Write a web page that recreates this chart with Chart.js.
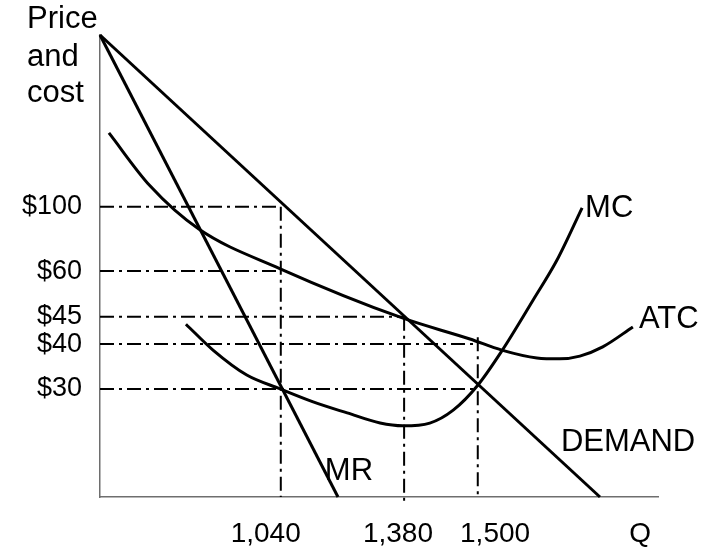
<!DOCTYPE html>
<html>
<head>
<meta charset="utf-8">
<script src="https://cdn.jsdelivr.net/npm/chart.js@4.4.1/dist/chart.umd.min.js"></script>
<style>
  html, body { margin: 0; padding: 0; background: #fff; }
  #wrap { width: 722px; height: 553px; position: relative; }
</style>
</head>
<body>
<div id="wrap"><canvas id="c"></canvas></div>
<script>
// ---- Data (schematic diagram units: Q axis 0..100, price axis 0..100) ----
const qTickLabels = ['1,040', '1,380', '1,500', 'Q'];
const qTickPos    = [29.7, 53.4, 70.8, 96.8];      // where the Q labels sit
const qLevels     = [32.4, 54.5, 67.7];            // 1,040 / 1,380 / 1,500
const priceLabels = ['$100', '$60', '$45', '$40', '$30'];
const priceLevels = [62.8, 48.9, 39.0, 33.1, 23.4];

const demandX = [0, 89.6];
const demandY = [100, 0];
const mrX = [0, 42.65];
const mrY = [100, 0];

const atcX = [1.6, 9.0, 17.7, 32.3, 54.3, 66.3, 72.0, 78.3, 82.4, 86.0, 90.1, 95.5];
const atcY = [78.8, 67.3, 58.0, 49.4, 38.7, 34.2, 31.8, 30.1, 29.9, 30.5, 32.5, 36.8];

const mcX = [15.4, 20.25, 26.3, 32.3, 38.2, 44.3, 50.2, 54.3, 59.1, 63.3, 67.7, 72.0, 77.6, 81.9, 86.4];
const mcY = [37.4, 31.8, 26.4, 23.4, 20.6, 18.2, 16.0, 15.4, 16.0, 18.8, 24.2, 31.6, 42.6, 51.3, 62.6];

// guide lines: horizontal from price axis to a Q level; vertical from a price down to Q axis
const hGuidePrice = [62.8, 48.9, 39.0, 33.1, 23.4];
const hGuideToQ   = [32.4, 32.4, 54.5, 67.7, 67.7];
const vGuideQ     = [32.4, 54.5, 67.7];
const vGuideTop   = [62.8, 39.0, 34.6];
const vGuideBottom= [0, -1.2, 0];

// ---- Build datasets ----
const zip = (xs, ys) => xs.map((x, i) => ({ x: x, y: ys[i] }));
const FONT = "'Liberation Sans', Arial, Helvetica, sans-serif";

const curveStyle = {
  borderColor: '#000', borderWidth: 3, pointRadius: 0, fill: false, clip: false
};
const guideStyle = {
  borderColor: '#000', borderWidth: 2, pointRadius: 0, fill: false,
  borderDash: [14, 5, 3, 5], clip: false, tension: 0
};

const datasets = [];
hGuidePrice.forEach((p, i) => datasets.push(Object.assign({
  label: 'h' + i, data: [{ x: 0, y: p }, { x: hGuideToQ[i], y: p }]
}, guideStyle)));
vGuideQ.forEach((q, i) => datasets.push(Object.assign({
  label: 'v' + i, data: [{ x: q, y: vGuideTop[i] }, { x: q, y: vGuideBottom[i] }]
}, guideStyle)));
datasets.push(Object.assign({ label: 'DEMAND', data: zip(demandX, demandY), tension: 0 }, curveStyle));
datasets.push(Object.assign({ label: 'MR', data: zip(mrX, mrY), tension: 0 }, curveStyle));
datasets.push(Object.assign({ label: 'ATC', data: zip(atcX, atcY), cubicInterpolationMode: 'monotone' }, curveStyle));
datasets.push(Object.assign({ label: 'MC', data: zip(mcX, mcY), cubicInterpolationMode: 'monotone' }, curveStyle));

// ---- Text annotations ----
const labelPlugin = {
  id: 'labels',
  afterDatasetsDraw(chart) {
    const ctx = chart.ctx;
    const xs = chart.scales.x, ys = chart.scales.y;
    ctx.save();
    ctx.fillStyle = '#000';
    ctx.font = '31px ' + FONT;
    ctx.textAlign = 'left';
    ctx.textBaseline = 'alphabetic';
    // axis title
    const axLeft = chart.chartArea.left;
    ctx.fillText('Price', axLeft - 73, 28);
    ctx.fillText('and', axLeft - 73, 66);
    ctx.fillText('cost', axLeft - 73, 102);
    // curve labels
    ctx.font = '31px ' + FONT;
    ctx.textBaseline = 'middle';
    const mcEnd = { x: mcX[mcX.length - 1], y: mcY[mcY.length - 1] };
    ctx.fillText('MC', xs.getPixelForValue(mcEnd.x) + 3, ys.getPixelForValue(mcEnd.y) + 1);
    const atcEnd = { x: atcX[atcX.length - 1], y: atcY[atcY.length - 1] };
    ctx.fillText('ATC', xs.getPixelForValue(atcEnd.x) + 6, ys.getPixelForValue(atcEnd.y) - 8);
    ctx.fillText('DEMAND', xs.getPixelForValue(82.6), ys.getPixelForValue(11.9));
    ctx.fillText('MR', xs.getPixelForValue(40.3), ys.getPixelForValue(5.6));
    ctx.restore();
  }
};

new Chart(document.getElementById('c'), {
  type: 'line',
  data: { datasets: datasets },
  options: {
    responsive: true,
    maintainAspectRatio: false,
    animation: false,
    layout: { padding: { top: 35, right: 64, left: 0, bottom: 0 } },
    plugins: { legend: { display: false }, tooltip: { enabled: false }, title: { display: false } },
    scales: {
      x: {
        type: 'linear', min: 0, max: 100,
        grid: { display: false, drawTicks: false },
        border: { display: true, color: '#6e6e6e', width: 1.5 },
        afterBuildTicks: (s) => { s.ticks = qTickPos.map(v => ({ value: v })); },
        afterFit: (s) => { s.height = 56; },
        ticks: {
          padding: 20, color: '#000', font: { family: FONT, size: 28 },
          maxRotation: 0, autoSkip: false,
          callback: (v, i) => qTickLabels[i]
        }
      },
      y: {
        type: 'linear', min: 0, max: 100,
        grid: { display: false, drawTicks: false },
        border: { display: true, color: '#6e6e6e', width: 1.5 },
        afterBuildTicks: (s) => { s.ticks = priceLevels.map(v => ({ value: v })); },
        afterFit: (s) => { s.width = 100; },
        ticks: {
          padding: 18, color: '#000', font: { family: FONT, size: 27 },
          autoSkip: false,
          callback: (v, i) => priceLabels[i]
        }
      }
    }
  },
  plugins: [labelPlugin]
});
</script>
</body>
</html>
